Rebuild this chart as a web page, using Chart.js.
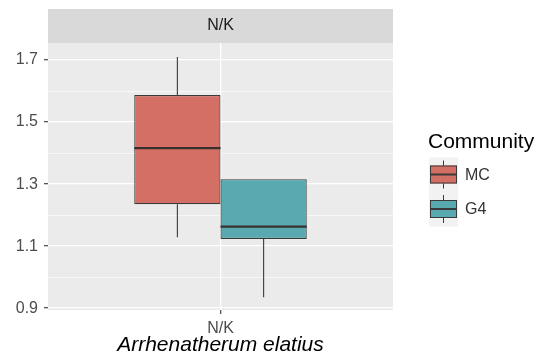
<!DOCTYPE html>
<html>
<head>
<meta charset="utf-8">
<script src="https://cdn.jsdelivr.net/npm/chart.js@4/dist/chart.umd.min.js"></script>
<style>
  body { margin: 0; background: #fff; }
  #wrap { width: 534px; height: 358px; }
</style>
</head>
<body>
<div id="wrap"><canvas id="myChart" width="534" height="358"></canvas></div>
<script>
// values
const categories = ['N/K'];
const communities = ['MC', 'G4'];
const whiskerLow = [1.129, 0.935];
const lowerQuartile = [1.235, 1.123];
const medians = [1.416, 1.163];
const upperQuartile = [1.587, 1.316];
const whiskerHigh = [1.710, 1.316];
const yTicks = [0.9, 1.0, 1.1, 1.2, 1.3, 1.4, 1.5, 1.6, 1.7];
const yLabelTicks = [0.9, 1.1, 1.3, 1.5, 1.7];
const panelTitle = 'N/K';
const xTitle = 'Arrhenatherum elatius';
const legendTitle = 'Community';

const fills = ['#D36F64', '#58A9B0'];
const FONT = "'Liberation Sans', Arial, sans-serif";

function isMajor(v) {
    return yLabelTicks.some(t => Math.abs(t - v) < 1e-6);
}

const boxParts = {
    id: 'boxParts',
    beforeDraw(chart) {
        const { ctx, chartArea: a } = chart;
        ctx.save();
        // panel
        ctx.fillStyle = '#EBEBEB';
        ctx.fillRect(a.left, a.top, a.right - a.left, a.bottom - a.top);
        // facet strip
        ctx.fillStyle = '#D9D9D9';
        ctx.fillRect(a.left, a.top - 34, a.right - a.left, 34);
        ctx.fillStyle = '#1A1A1A';
        ctx.font = '16px ' + FONT;
        ctx.textAlign = 'center';
        ctx.textBaseline = 'middle';
        ctx.fillText(panelTitle, (a.left + a.right) / 2, a.top - 17);
        ctx.restore();
    },
    afterDatasetsDraw(chart) {
        const { ctx } = chart;
        const y = chart.scales.y;
        ctx.save();
        communities.forEach((c, i) => {
            const bar = chart.getDatasetMeta(i).data[0];
            if (!bar) return;
            const half = bar.width / 2;
            ctx.strokeStyle = '#3A3A3A';
            ctx.lineWidth = 1.1;
            ctx.beginPath();
            ctx.moveTo(bar.x, y.getPixelForValue(upperQuartile[i]));
            ctx.lineTo(bar.x, y.getPixelForValue(whiskerHigh[i]));
            ctx.moveTo(bar.x, y.getPixelForValue(lowerQuartile[i]));
            ctx.lineTo(bar.x, y.getPixelForValue(whiskerLow[i]));
            ctx.stroke();
            ctx.lineWidth = 2.4;
            ctx.strokeStyle = '#3A3030';
            const my = y.getPixelForValue(medians[i]);
            ctx.beginPath();
            ctx.moveTo(bar.x - half, my);
            ctx.lineTo(bar.x + half, my);
            ctx.stroke();
        });
        ctx.restore();
    },
    afterDraw(chart) {
        const { ctx, chartArea: a } = chart;
        const left = a.right + 35;
        ctx.save();
        ctx.fillStyle = '#000';
        ctx.font = '21px ' + FONT;
        ctx.textAlign = 'left';
        ctx.textBaseline = 'middle';
        ctx.fillText(legendTitle, left, 142);
        communities.forEach((c, i) => {
            const cy = 174.5 + i * 34.5;
            const kx = left + 2;
            ctx.fillStyle = '#F2F2F2';
            ctx.fillRect(kx - 1, cy - 17, 29, 34.5);
            ctx.strokeStyle = '#3A3A3A';
            ctx.lineWidth = 1;
            ctx.beginPath();
            ctx.moveTo(kx + 13.5, cy - 14);
            ctx.lineTo(kx + 13.5, cy + 14);
            ctx.stroke();
            ctx.fillStyle = fills[i];
            ctx.fillRect(kx, cy - 9, 27, 18);
            ctx.strokeRect(kx + 0.5, cy - 8.5, 26, 17);
            ctx.lineWidth = 2;
            ctx.beginPath();
            ctx.moveTo(kx, cy);
            ctx.lineTo(kx + 27, cy);
            ctx.stroke();
            ctx.fillStyle = '#333';
            ctx.font = '16px ' + FONT;
            ctx.fillText(c, kx + 35, cy + 1);
        });
        ctx.restore();
    }
};

const ctx = document.getElementById('myChart').getContext('2d');
const myChart = new Chart(ctx, {
    type: 'bar',
    data: {
        labels: categories,
        datasets: communities.map((c, i) => ({
            label: c,
            data: [[lowerQuartile[i], upperQuartile[i]]],
            backgroundColor: fills[i],
            borderColor: '#3A3A3A',
            borderWidth: 1.2,
            borderSkipped: false,
            categoryPercentage: 0.5,
            barPercentage: 1.0
        }))
    },
    options: {
        responsive: false,
        animation: false,
        devicePixelRatio: 1,
        layout: { padding: { top: 43, right: 141, left: 0, bottom: 0 } },
        plugins: {
            legend: { display: false },
            tooltip: { enabled: false }
        },
        scales: {
            x: {
                offset: true,
                grid: {
                    offset: false,
                    color: '#FFFFFF',
                    lineWidth: 1.3,
                    tickColor: '#555555',
                    tickLength: 4
                },
                border: { display: false },
                ticks: {
                    color: '#4D4D4D',
                    padding: 5,
                    font: { family: FONT, size: 16 }
                },
                title: {
                    display: true,
                    text: xTitle,
                    color: '#000',
                    padding: { top: 0, bottom: 0 },
                    font: { family: FONT, size: 21, style: 'italic' }
                },
                afterFit(scale) { scale.height = 48; }
            },
            y: {
                min: 0.894,
                max: 1.755,
                afterBuildTicks(scale) {
                    scale.ticks = yTicks.map(v => ({ value: v }));
                },
                grid: {
                    color: '#FFFFFF',
                    lineWidth: c => (c.tick && isMajor(c.tick.value)) ? 1.3 : 0.6,
                    tickColor: c => (c.tick && isMajor(c.tick.value)) ? '#555555' : 'rgba(0,0,0,0)',
                    tickLength: 4
                },
                border: { display: false },
                ticks: {
                    color: '#4D4D4D',
                    padding: 6,
                    font: { family: FONT, size: 16 },
                    callback: v => isMajor(v) ? v.toFixed(1) : ''
                },
                afterFit(scale) { scale.width = 48; }
            }
        }
    },
    plugins: [boxParts]
});
</script>
</body>
</html>
